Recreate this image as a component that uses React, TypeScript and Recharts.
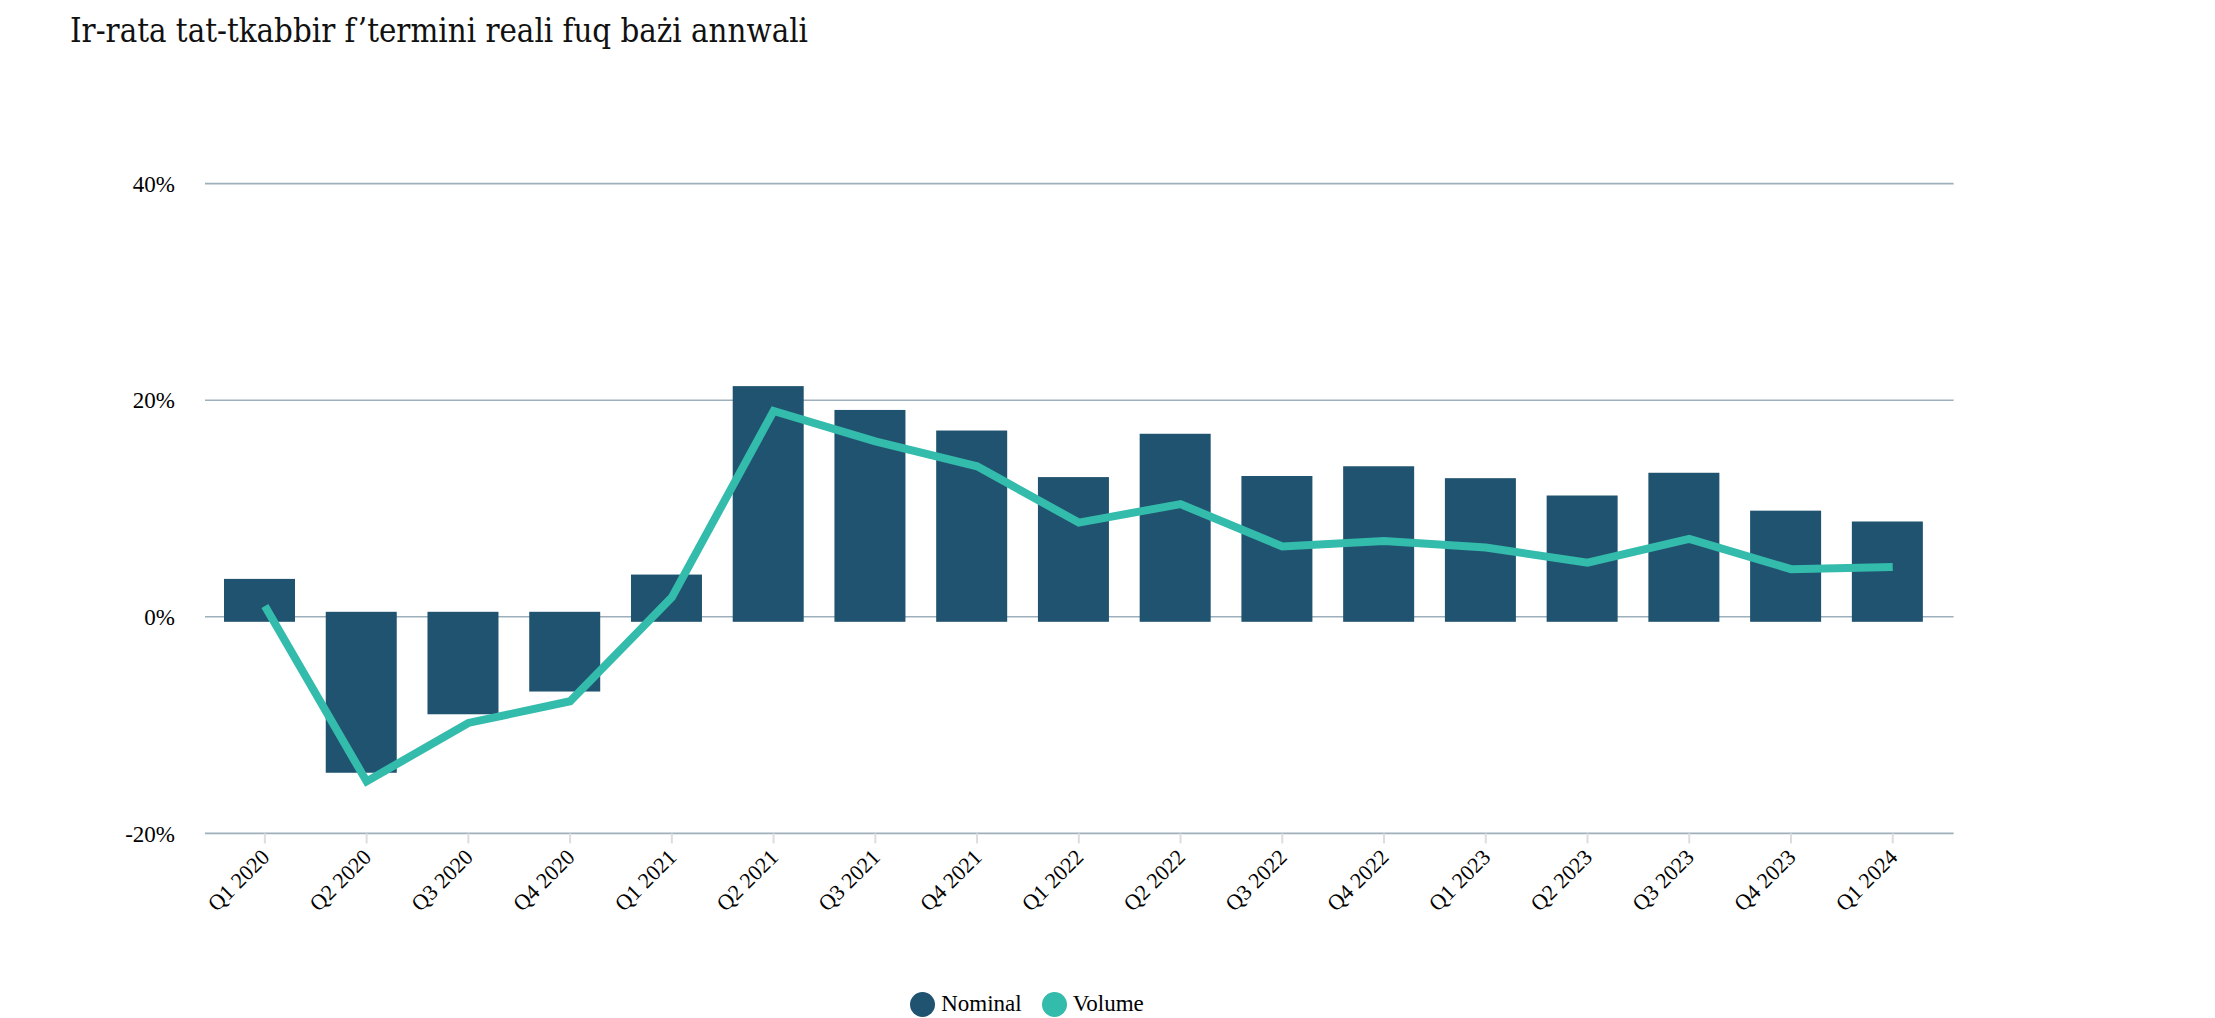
import React from 'react';
import {
  ComposedChart,
  Bar,
  Line,
  XAxis,
  YAxis,
  CartesianGrid,
  Legend,
} from 'recharts';

const quarters = [
  'Q1 2020', 'Q2 2020', 'Q3 2020', 'Q4 2020',
  'Q1 2021', 'Q2 2021', 'Q3 2021', 'Q4 2021',
  'Q1 2022', 'Q2 2022', 'Q3 2022', 'Q4 2022',
  'Q1 2023', 'Q2 2023', 'Q3 2023', 'Q4 2023',
  'Q1 2024',
];

const nominal = [
  3.5, -14.4, -9.0, -6.9,
  3.9, 21.3, 19.1, 17.2,
  12.9, 16.9, 13.0, 13.9,
  12.8, 11.2, 13.3, 9.8,
  8.8,
];

const volume = [
  1.0, -15.2, -9.8, -7.8,
  1.8, 19.0, 16.2, 13.9,
  8.7, 10.4, 6.5, 7.0,
  6.4, 5.0, 7.2, 4.4,
  4.6,
];

const yTicks = [-20, 0, 20, 40];

const NOMINAL_COLOR = '#20536f';
const VOLUME_COLOR = '#33bbac';
const GRID_COLOR = '#9dafba';
const SERIF = '"Liberation Serif", "Times New Roman", serif';

const data = quarters.map((q, i) => ({
  quarter: q,
  nominal: nominal[i],
  volume: volume[i],
}));

// bars sit a little left of the tick and run a few px past the zero line
const BarShape = (props: any) => {
  const { x, y, width, height } = props;
  let top = Math.min(y, y + height);
  let h = Math.abs(height);
  if (height >= 0) {
    h += 5;
  } else {
    top -= 5;
    h += 5;
  }
  return <rect x={x - 5} y={top} width={width} height={h} fill={NOMINAL_COLOR} />;
};

const XTick = (props: any) => {
  const { x, y, payload } = props;
  return (
    <g transform={`translate(${x + 6},${y + 13})`}>
      <text
        x={0}
        y={0}
        textAnchor="end"
        transform="rotate(-45)"
        fontFamily={SERIF}
        fontSize={22}
        fill="#000"
      >
        {payload.value}
      </text>
    </g>
  );
};

const LegendContent = () => {
  const items = [
    { label: 'Nominal', color: NOMINAL_COLOR },
    { label: 'Volume', color: VOLUME_COLOR },
  ];
  return (
    <div
      style={{
        display: 'flex',
        justifyContent: 'center',
        alignItems: 'center',
        gap: 20,
        fontFamily: SERIF,
        fontSize: 23,
        color: '#000',
      }}
    >
      {items.map((it) => (
        <div key={it.label} style={{ display: 'flex', alignItems: 'center' }}>
          <span
            style={{
              display: 'inline-block',
              width: 25,
              height: 25,
              borderRadius: '50%',
              background: it.color,
              marginRight: 6,
            }}
          />
          <span>{it.label}</span>
        </div>
      ))}
    </div>
  );
};

export default function App() {
  return (
    <div style={{ position: 'relative', width: 2199, height: 1010 }}>
      <div
        style={{
          position: 'absolute',
          left: 62,
          top: 4,
          fontFamily: '"DejaVu Serif Condensed", "DejaVu Serif", serif',
          fontSize: 32.7,
          color: '#111',
          whiteSpace: 'nowrap',
        }}
      >
        Ir-rata tat-tkabbir f’termini reali fuq bażi annwali
      </div>
      <ComposedChart
        width={2199}
        height={1010}
        data={data}
        margin={{ top: 175.6, right: 253.4, bottom: 74.6, left: 0 }}
        barSize={71}
      >
        <CartesianGrid
          vertical={false}
          stroke={GRID_COLOR}
          strokeWidth={1.6}
        />
        <XAxis
          dataKey="quarter"
          interval={0}
          height={110}
          axisLine={false}
          tickLine={{ stroke: '#dddddd', strokeWidth: 2 }}
          tickSize={10}
          padding={{ left: 9, right: 10 }}
          tick={<XTick />}
        />
        <YAxis
          width={197}
          domain={[-20, 40]}
          ticks={yTicks}
          axisLine={false}
          tickLine={false}
          tickMargin={24}
          tickFormatter={(v: number) => `${v}%`}
          tick={{ fontFamily: SERIF, fontSize: 23, fill: '#000' }}
        />
        <Legend
          verticalAlign="middle"
          align="center"
          content={<LegendContent />}
          wrapperStyle={{ top: 983, left: 0, width: 2038 }}
        />
        <Bar
          dataKey="nominal"
          name="Nominal"
          fill={NOMINAL_COLOR}
          shape={<BarShape />}
          isAnimationActive={false}
        />
        <Line
          type="linear"
          dataKey="volume"
          name="Volume"
          stroke={VOLUME_COLOR}
          strokeWidth={8}
          dot={false}
          activeDot={false}
          isAnimationActive={false}
        />
      </ComposedChart>
    </div>
  );
}
